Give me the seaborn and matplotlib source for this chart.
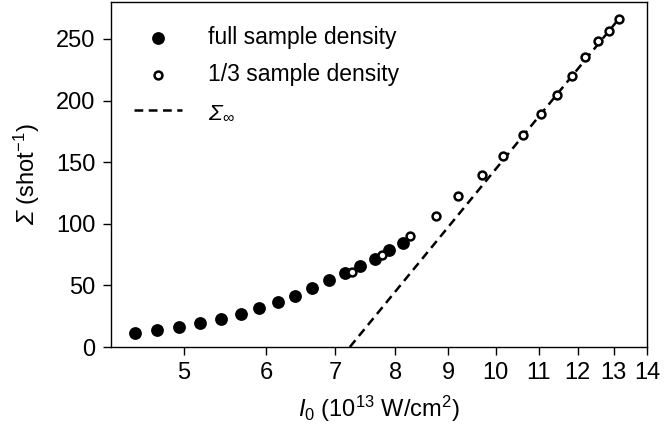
import matplotlib
matplotlib.use("Agg")
import matplotlib.pyplot as plt
import seaborn as sns
import numpy as np
import pandas as pd
from matplotlib.ticker import FixedLocator, FixedFormatter, NullLocator

# Data
full_I = [4.48, 4.71, 4.95, 5.18, 5.43, 5.67, 5.91, 6.16, 6.40, 6.65, 6.90, 7.15, 7.39, 7.64, 7.89, 8.13]
full_S = [11.7, 13.8, 16.6, 19.3, 23.1, 26.6, 31.7, 36.3, 41.8, 47.5, 54.0, 59.7, 65.4, 71.5, 78.9, 84.3]
third_I = [7.27, 7.77, 8.26, 8.75, 9.20, 9.70, 10.17, 10.63, 11.05, 11.45, 11.84, 12.20, 12.55, 12.86, 13.15]
third_S = [60.7, 74.3, 90.2, 106.5, 122.8, 139.3, 155.0, 172.1, 189.2, 204.4, 220.1, 235.3, 248.0, 256.7, 266.2]
inf_I = [7.23, 13.2]
inf_S = [0.0, 268.0]
xticks = [5, 6, 7, 8, 9, 10, 11, 12, 13, 14]
xticklabels = ["5", "6", "7", "8", "9", "10", "11", "12", "13", "14"]
yticks = [0, 50, 100, 150, 200, 250]

sns.set_style("ticks")
plt.rcParams["font.family"] = ["Liberation Sans", "DejaVu Sans"]
plt.rcParams["mathtext.fontset"] = "custom"
plt.rcParams["mathtext.rm"] = "Liberation Sans"
plt.rcParams["mathtext.it"] = "Liberation Sans:italic"
plt.rcParams["mathtext.sf"] = "Liberation Sans:italic"
plt.rcParams["mathtext.fallback"] = "stixsans"
plt.rcParams["text.color"] = "black"
plt.rcParams["axes.labelcolor"] = "black"

FS = 17

fig = plt.figure(figsize=(6.68, 4.30), dpi=100)
ax = fig.add_axes([0.166, 0.193, 0.8026, 0.8023])

df_full = pd.DataFrame({"I": full_I, "S": full_S})
df_third = pd.DataFrame({"I": third_I, "S": third_S})
df_inf = pd.DataFrame({"I": inf_I, "S": inf_S})

sns.scatterplot(data=df_full, x="I", y="S", ax=ax, color="black", s=85,
                edgecolor="black", linewidth=0, label="full sample density", zorder=3)
sns.scatterplot(data=df_third, x="I", y="S", ax=ax, facecolor="white", s=32,
                edgecolor="black", linewidth=1.8, label="1/3 sample density", zorder=4)
sns.lineplot(data=df_inf, x="I", y="S", ax=ax, color="black", linewidth=1.8,
             linestyle=(0, (3.5, 2.2)), label=r"$\mathsf{Σ}_{\infty}$", zorder=2)

ax.set_xscale("log")
ax.set_xlim(4.25, 14)
ax.set_ylim(0, 280)
ax.xaxis.set_major_locator(FixedLocator(xticks))
ax.xaxis.set_major_formatter(FixedFormatter(xticklabels))
ax.xaxis.set_minor_locator(NullLocator())
ax.set_yticks(yticks)

ax.tick_params(axis="both", labelsize=FS, length=6, width=1.0, pad=5,
               color="black", labelcolor="black")
for sp in ax.spines.values():
    sp.set_linewidth(1.0)
    sp.set_color("black")
    sp.set_visible(True)

ax.set_xlabel(r"$I_0$ (10$^{13}$ W/cm$^2$)", fontsize=FS, labelpad=7)
ax.set_ylabel(r"$\mathsf{Σ}$ (shot$^{-1}$)", fontsize=FS, labelpad=10)

leg = ax.legend(loc="upper left", frameon=False, fontsize=16.5, handlelength=2.1,
                handletextpad=1.1, labelspacing=0.6, borderaxespad=0.5,
                bbox_to_anchor=(0.005, 0.99))

fig.savefig("out.png", dpi=100)
